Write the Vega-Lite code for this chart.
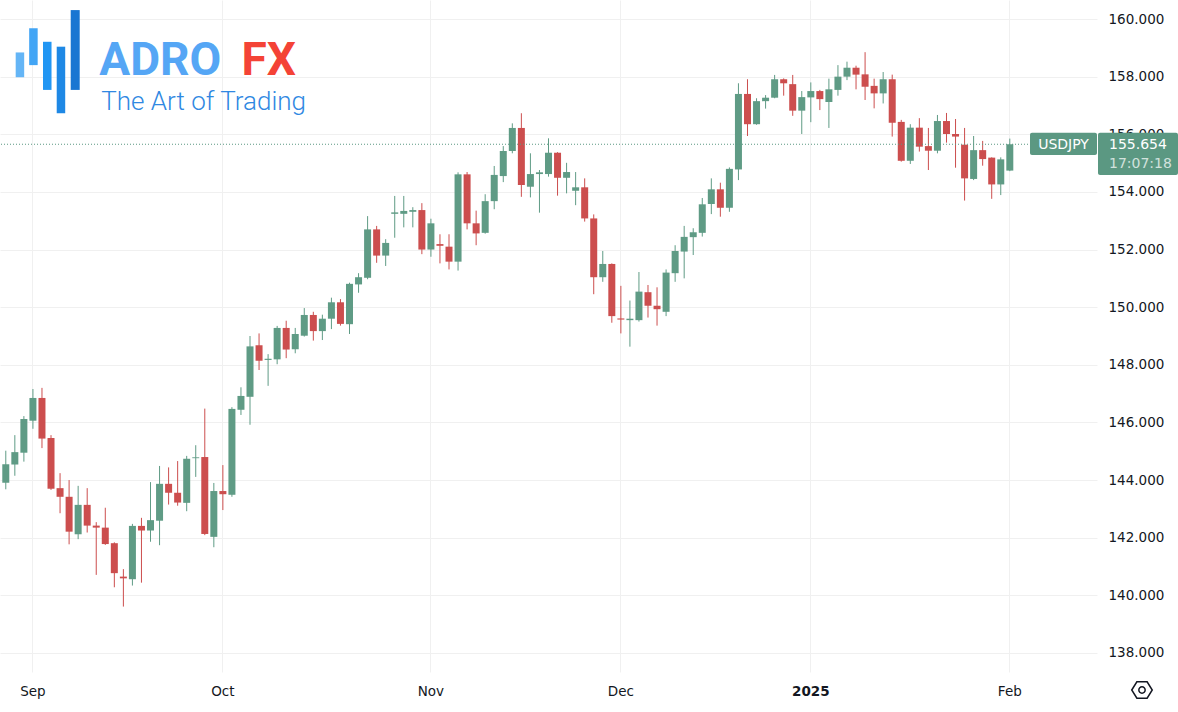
{
  "$schema": "https://vega.github.io/schema/vega-lite/v6.json",
  "width": 1097,
  "height": 672,
  "autosize": "none",
  "padding": {"left": 0, "top": 0, "right": 81, "bottom": 40},
  "background": "#ffffff",
  "config": {
    "view": {"stroke": null},
    "font": "DejaVu Sans",
    "axis": {"labelFont": "DejaVu Sans", "labelFontSize": 13.5, "labelColor": "#131722", "gridColor": "#f0f0f0", "gridWidth": 1, "ticks": false, "domain": false}
  },
  "layer": [
    {
      "data": {"values": [
        {"date":"2024-08-28","open":143.91,"high":145.02,"low":143.68,"close":144.55},
        {"date":"2024-08-29","open":144.54,"high":145.56,"low":144.15,"close":144.97},
        {"date":"2024-08-30","open":144.95,"high":146.22,"low":144.64,"close":146.12},
        {"date":"2024-09-02","open":146.06,"high":147.16,"low":145.78,"close":146.85},
        {"date":"2024-09-03","open":146.85,"high":147.20,"low":145.11,"close":145.44},
        {"date":"2024-09-04","open":145.46,"high":145.56,"low":143.66,"close":143.70},
        {"date":"2024-09-05","open":143.72,"high":144.24,"low":142.85,"close":143.42},
        {"date":"2024-09-06","open":143.42,"high":144.00,"low":141.77,"close":142.21},
        {"date":"2024-09-09","open":142.12,"high":143.80,"low":141.95,"close":143.14},
        {"date":"2024-09-10","open":143.14,"high":143.72,"low":142.18,"close":142.42},
        {"date":"2024-09-11","open":142.42,"high":142.54,"low":140.71,"close":142.35},
        {"date":"2024-09-12","open":142.35,"high":143.04,"low":141.75,"close":141.78},
        {"date":"2024-09-13","open":141.81,"high":141.84,"low":140.28,"close":140.77},
        {"date":"2024-09-16","open":140.65,"high":140.91,"low":139.61,"close":140.59},
        {"date":"2024-09-17","open":140.56,"high":142.48,"low":140.34,"close":142.41},
        {"date":"2024-09-18","open":142.41,"high":142.69,"low":140.44,"close":142.25},
        {"date":"2024-09-19","open":142.25,"high":143.93,"low":141.86,"close":142.61},
        {"date":"2024-09-20","open":142.59,"high":144.49,"low":141.74,"close":143.87},
        {"date":"2024-09-23","open":143.87,"high":144.44,"low":143.15,"close":143.56},
        {"date":"2024-09-24","open":143.56,"high":144.66,"low":143.11,"close":143.22},
        {"date":"2024-09-25","open":143.21,"high":144.84,"low":142.92,"close":144.74},
        {"date":"2024-09-26","open":144.76,"high":145.21,"low":144.11,"close":144.79},
        {"date":"2024-09-27","open":144.80,"high":146.48,"low":142.09,"close":142.13},
        {"date":"2024-09-30","open":142.03,"high":143.90,"low":141.67,"close":143.62},
        {"date":"2024-10-01","open":143.62,"high":144.52,"low":142.96,"close":143.51},
        {"date":"2024-10-02","open":143.49,"high":146.53,"low":143.42,"close":146.47},
        {"date":"2024-10-03","open":146.44,"high":147.22,"low":146.26,"close":146.92},
        {"date":"2024-10-04","open":146.89,"high":149.00,"low":145.92,"close":148.64},
        {"date":"2024-10-07","open":148.68,"high":149.09,"low":147.82,"close":148.14},
        {"date":"2024-10-08","open":148.17,"high":148.37,"low":147.27,"close":148.21},
        {"date":"2024-10-09","open":148.19,"high":149.35,"low":148.02,"close":149.28},
        {"date":"2024-10-10","open":149.28,"high":149.53,"low":148.23,"close":148.53},
        {"date":"2024-10-11","open":148.54,"high":149.28,"low":148.40,"close":149.07},
        {"date":"2024-10-14","open":149.01,"high":149.97,"low":148.98,"close":149.73},
        {"date":"2024-10-15","open":149.73,"high":149.84,"low":148.84,"close":149.17},
        {"date":"2024-10-16","open":149.17,"high":149.74,"low":148.86,"close":149.60},
        {"date":"2024-10-17","open":149.60,"high":150.33,"low":149.24,"close":150.17},
        {"date":"2024-10-18","open":150.17,"high":150.28,"low":149.36,"close":149.42},
        {"date":"2024-10-21","open":149.41,"high":150.85,"low":149.07,"close":150.81},
        {"date":"2024-10-22","open":150.79,"high":151.18,"low":150.50,"close":151.04},
        {"date":"2024-10-23","open":151.02,"high":153.16,"low":150.97,"close":152.70},
        {"date":"2024-10-24","open":152.70,"high":152.82,"low":151.54,"close":151.79},
        {"date":"2024-10-25","open":151.79,"high":152.36,"low":151.43,"close":152.23},
        {"date":"2024-10-28","open":153.24,"high":153.86,"low":152.41,"close":153.29},
        {"date":"2024-10-29","open":153.24,"high":153.86,"low":152.77,"close":153.34},
        {"date":"2024-10-30","open":153.31,"high":153.47,"low":152.77,"close":153.37},
        {"date":"2024-10-31","open":153.37,"high":153.61,"low":151.84,"close":152.00},
        {"date":"2024-11-01","open":152.00,"high":153.07,"low":151.75,"close":152.91},
        {"date":"2024-11-04","open":152.19,"high":152.53,"low":151.52,"close":152.13},
        {"date":"2024-11-05","open":152.10,"high":152.53,"low":151.31,"close":151.58},
        {"date":"2024-11-06","open":151.58,"high":154.68,"low":151.27,"close":154.61},
        {"date":"2024-11-07","open":154.61,"high":154.69,"low":152.70,"close":152.91},
        {"date":"2024-11-08","open":152.91,"high":153.35,"low":152.15,"close":152.56},
        {"date":"2024-11-11","open":152.58,"high":153.92,"low":152.55,"close":153.68},
        {"date":"2024-11-12","open":153.68,"high":154.90,"low":153.40,"close":154.59},
        {"date":"2024-11-13","open":154.55,"high":155.59,"low":154.34,"close":155.42},
        {"date":"2024-11-14","open":155.42,"high":156.38,"low":155.34,"close":156.22},
        {"date":"2024-11-15","open":156.22,"high":156.73,"low":153.83,"close":154.24},
        {"date":"2024-11-18","open":154.18,"high":155.34,"low":153.81,"close":154.62},
        {"date":"2024-11-19","open":154.62,"high":154.76,"low":153.28,"close":154.68},
        {"date":"2024-11-20","open":154.62,"high":155.86,"low":154.53,"close":155.36},
        {"date":"2024-11-21","open":155.36,"high":155.38,"low":153.87,"close":154.49},
        {"date":"2024-11-22","open":154.49,"high":155.01,"low":153.95,"close":154.69},
        {"date":"2024-11-25","open":154.04,"high":154.69,"low":153.54,"close":154.16},
        {"date":"2024-11-26","open":154.16,"high":154.47,"low":152.97,"close":153.08},
        {"date":"2024-11-27","open":153.08,"high":153.22,"low":150.45,"close":151.04},
        {"date":"2024-11-28","open":151.04,"high":151.95,"low":150.88,"close":151.50},
        {"date":"2024-11-29","open":151.50,"high":151.52,"low":149.46,"close":149.69},
        {"date":"2024-12-02","open":149.61,"high":150.74,"low":149.09,"close":149.57},
        {"date":"2024-12-03","open":149.55,"high":150.23,"low":148.63,"close":149.60},
        {"date":"2024-12-04","open":149.55,"high":151.22,"low":149.50,"close":150.54},
        {"date":"2024-12-05","open":150.52,"high":150.77,"low":149.64,"close":150.05},
        {"date":"2024-12-06","open":150.05,"high":150.69,"low":149.36,"close":149.93},
        {"date":"2024-12-09","open":149.84,"high":151.31,"low":149.69,"close":151.20},
        {"date":"2024-12-10","open":151.18,"high":152.15,"low":150.88,"close":151.95},
        {"date":"2024-12-11","open":151.93,"high":152.82,"low":151.00,"close":152.44},
        {"date":"2024-12-12","open":152.43,"high":152.74,"low":151.81,"close":152.60},
        {"date":"2024-12-13","open":152.58,"high":153.79,"low":152.45,"close":153.57},
        {"date":"2024-12-16","open":153.58,"high":154.47,"low":153.23,"close":154.09},
        {"date":"2024-12-17","open":154.09,"high":154.32,"low":153.14,"close":153.45},
        {"date":"2024-12-18","open":153.45,"high":154.85,"low":153.31,"close":154.80},
        {"date":"2024-12-19","open":154.78,"high":157.77,"low":154.41,"close":157.40},
        {"date":"2024-12-20","open":157.40,"high":157.91,"low":155.94,"close":156.35},
        {"date":"2024-12-23","open":156.35,"high":157.25,"low":156.33,"close":157.15},
        {"date":"2024-12-24","open":157.15,"high":157.36,"low":156.89,"close":157.27},
        {"date":"2024-12-26","open":157.27,"high":158.06,"low":157.25,"close":157.91},
        {"date":"2024-12-27","open":157.91,"high":157.94,"low":157.34,"close":157.77},
        {"date":"2024-12-30","open":157.74,"high":158.06,"low":156.64,"close":156.82},
        {"date":"2024-12-31","open":156.82,"high":157.50,"low":156.01,"close":157.29},
        {"date":"2025-01-02","open":157.28,"high":157.80,"low":156.42,"close":157.50},
        {"date":"2025-01-03","open":157.50,"high":157.54,"low":156.84,"close":157.22},
        {"date":"2025-01-06","open":157.12,"high":157.93,"low":156.22,"close":157.56},
        {"date":"2025-01-07","open":157.54,"high":158.40,"low":157.34,"close":158.00},
        {"date":"2025-01-08","open":158.00,"high":158.52,"low":157.88,"close":158.31},
        {"date":"2025-01-09","open":158.31,"high":158.38,"low":157.56,"close":158.07},
        {"date":"2025-01-10","open":158.08,"high":158.85,"low":157.19,"close":157.65},
        {"date":"2025-01-13","open":157.68,"high":157.93,"low":156.90,"close":157.42},
        {"date":"2025-01-14","open":157.42,"high":158.16,"low":157.07,"close":157.91},
        {"date":"2025-01-15","open":157.91,"high":158.07,"low":155.92,"close":156.40},
        {"date":"2025-01-16","open":156.43,"high":156.50,"low":155.05,"close":155.08},
        {"date":"2025-01-17","open":155.08,"high":156.35,"low":154.97,"close":156.23},
        {"date":"2025-01-20","open":156.23,"high":156.56,"low":155.40,"close":155.57},
        {"date":"2025-01-21","open":155.59,"high":156.22,"low":154.76,"close":155.43},
        {"date":"2025-01-22","open":155.43,"high":156.67,"low":155.34,"close":156.46},
        {"date":"2025-01-23","open":156.46,"high":156.74,"low":155.71,"close":156.01},
        {"date":"2025-01-24","open":156.01,"high":156.53,"low":154.84,"close":155.92},
        {"date":"2025-01-27","open":155.64,"high":156.22,"low":153.70,"close":154.47},
        {"date":"2025-01-28","open":154.45,"high":155.94,"low":154.41,"close":155.45},
        {"date":"2025-01-29","open":155.45,"high":155.77,"low":154.91,"close":155.14},
        {"date":"2025-01-30","open":155.19,"high":155.20,"low":153.76,"close":154.26},
        {"date":"2025-01-31","open":154.26,"high":155.20,"low":153.89,"close":155.13},
        {"date":"2025-02-03","open":154.74,"high":155.85,"low":154.72,"close":155.654}
      ]},
      "encoding": {
        "x": {
          "field": "date", "type": "ordinal",
          "scale": {"type": "band", "paddingInner": 0, "paddingOuter": 0.14, "align": 0.5, "round": false,
            "domain": {"unionWith": ["2025-02-04", "2025-02-05", "2025-02-06", "2025-02-07", "2025-02-10", "2025-02-11", "2025-02-12", "2025-02-13", "2025-02-14"]}},
          "axis": {
            "title": null,
            "values": ["2024-09-02", "2024-10-01", "2024-11-01", "2024-12-02", "2025-01-02", "2025-02-03"],
            "labelExpr": "datum.value == '2024-09-02' ? 'Sep' : datum.value == '2024-10-01' ? 'Oct' : datum.value == '2024-11-01' ? 'Nov' : datum.value == '2024-12-02' ? 'Dec' : datum.value == '2025-01-02' ? '2025' : 'Feb'",
            "labelAngle": 0, "labelPadding": 12, "grid": true, "bandPosition": 0.5, "labelOverlap": false,
            "labelFontWeight": {"condition": {"test": "datum.value == '2025-01-02'", "value": "bold"}, "value": "normal"}
          }
        },
        "color": {"condition": {"test": "datum.close >= datum.open", "value": "#5f9b85"}, "value": "#cc4e4e"}
      },
      "layer": [
        {
          "mark": {"type": "rule", "strokeWidth": 1},
          "encoding": {
            "y": {"field": "low", "type": "quantitative",
              "scale": {"domain": [137.34, 160.66], "zero": false, "nice": false},
              "axis": {"title": null, "orient": "right", "values": [138, 140, 142, 144, 146, 148, 150, 152, 154, 156, 158, 160], "format": ".3f", "labelPadding": 11, "grid": true}},
            "y2": {"field": "high"}
          }
        },
        {
          "mark": {"type": "bar", "size": 7},
          "encoding": {
            "y": {"field": "open", "type": "quantitative"},
            "y2": {"field": "close"}
          }
        }
      ]
    },
    {
      "data": {"values": [{"symbol": "USDJPY", "price": 155.654, "time": "17:07:18"}]},
      "layer": [
        {
          "mark": {"type": "rule", "color": "#5b9882", "strokeWidth": 1, "strokeDash": [1, 2]},
          "encoding": {"y": {"field": "price", "type": "quantitative"}}
        },
        {
          "mark": {"type": "rect", "color": "#5b9882", "cornerRadius": 2, "xOffset": -67, "x2Offset": 0, "yOffset": -11.5, "y2Offset": 10.7},
          "encoding": {"x": {"value": "width"}, "x2": {"value": "width"}, "y": {"field": "price", "type": "quantitative"}, "y2": {"field": "price"}}
        },
        {
          "mark": {"type": "rect", "color": "#5b9882", "cornerRadius": 2, "xOffset": 1, "x2Offset": 81, "yOffset": -11.5, "y2Offset": 30.7},
          "encoding": {"x": {"value": "width"}, "x2": {"value": "width"}, "y": {"field": "price", "type": "quantitative"}, "y2": {"field": "price"}}
        },
        {
          "mark": {"type": "text", "align": "center", "baseline": "middle", "dx": -33.5, "dy": 0.5, "fontSize": 14, "fill": "#ffffff"},
          "encoding": {"x": {"value": "width"}, "y": {"field": "price", "type": "quantitative"}, "text": {"field": "symbol"}}
        },
        {
          "mark": {"type": "text", "align": "left", "baseline": "middle", "dx": 12, "dy": 0.5, "fontSize": 14, "fill": "#ffffff"},
          "encoding": {"x": {"value": "width"}, "y": {"field": "price", "type": "quantitative"}, "text": {"field": "price", "type": "quantitative", "format": ".3f"}}
        },
        {
          "mark": {"type": "text", "align": "left", "baseline": "middle", "dx": 12, "dy": 19.5, "fontSize": 14, "fill": "#ffffff", "opacity": 0.72},
          "encoding": {"x": {"value": "width"}, "y": {"field": "price", "type": "quantitative"}, "text": {"field": "time"}}
        }
      ]
    },
    {
      "data": {"values": [{}]},
      "layer": [
        {
          "mark": {"type": "rule", "strokeWidth": 8.5, "color": "#64b5f6", "xOffset": 5.1},
          "encoding": {"x": {"datum": "2024-08-29", "type": "ordinal"}, "y": {"datum": 158.84}, "y2": {"datum": 157.98}}
        },
        {
          "mark": {"type": "rule", "strokeWidth": 8.5, "color": "#42a5f5", "xOffset": 0.5},
          "encoding": {"x": {"datum": "2024-09-02", "type": "ordinal"}, "y": {"datum": 159.68}, "y2": {"datum": 158.40}}
        },
        {
          "mark": {"type": "rule", "strokeWidth": 8.5, "color": "#2196f3", "xOffset": 5.3},
          "encoding": {"x": {"datum": "2024-09-03", "type": "ordinal"}, "y": {"datum": 159.21}, "y2": {"datum": 157.54}}
        },
        {
          "mark": {"type": "rule", "strokeWidth": 8.5, "color": "#1e88e5", "xOffset": 0.9},
          "encoding": {"x": {"datum": "2024-09-05", "type": "ordinal"}, "y": {"datum": 159.04}, "y2": {"datum": 156.73}}
        },
        {
          "mark": {"type": "rule", "strokeWidth": 9, "color": "#1976d2", "xOffset": 6.1},
          "encoding": {"x": {"datum": "2024-09-06", "type": "ordinal"}, "y": {"datum": 160.31}, "y2": {"datum": 157.54}}
        },
        {
          "mark": {"type": "text", "text": "ADRO", "font": "Roboto", "fontWeight": "bold", "fontSize": 46, "color": "#55a6f5", "align": "left", "baseline": "alphabetic", "dx": 3},
          "encoding": {"x": {"datum": "2024-09-11", "type": "ordinal"}, "y": {"datum": 158.06}}
        },
        {
          "mark": {"type": "text", "text": "FX", "font": "Roboto", "fontWeight": "bold", "fontSize": 46, "color": "#f44336", "align": "left", "baseline": "alphabetic", "dx": 0.5},
          "encoding": {"x": {"datum": "2024-10-03", "type": "ordinal"}, "y": {"datum": 158.06}}
        },
        {
          "mark": {"type": "text", "text": "The Art of Trading", "font": "Roboto", "fontWeight": 300, "fontSize": 26, "color": "#3088e2", "align": "left", "baseline": "alphabetic", "dx": 5},
          "encoding": {"x": {"datum": "2024-09-11", "type": "ordinal"}, "y": {"datum": 156.84}}
        },
        {
          "mark": {"type": "point", "shape": "M -1 0 L -0.5 -0.8 L 0.5 -0.8 L 1 0 L 0.5 0.8 L -0.5 0.8 Z", "size": 420, "filled": false, "stroke": "#131722", "strokeWidth": 1.5, "opacity": 1, "xOffset": 45, "yOffset": 18},
          "encoding": {"x": {"value": "width"}, "y": {"value": "height"}}
        },
        {
          "mark": {"type": "point", "shape": "circle", "size": 40, "filled": false, "stroke": "#131722", "strokeWidth": 1.5, "opacity": 1, "xOffset": 45, "yOffset": 18},
          "encoding": {"x": {"value": "width"}, "y": {"value": "height"}}
        }
      ]
    }
  ]
}
